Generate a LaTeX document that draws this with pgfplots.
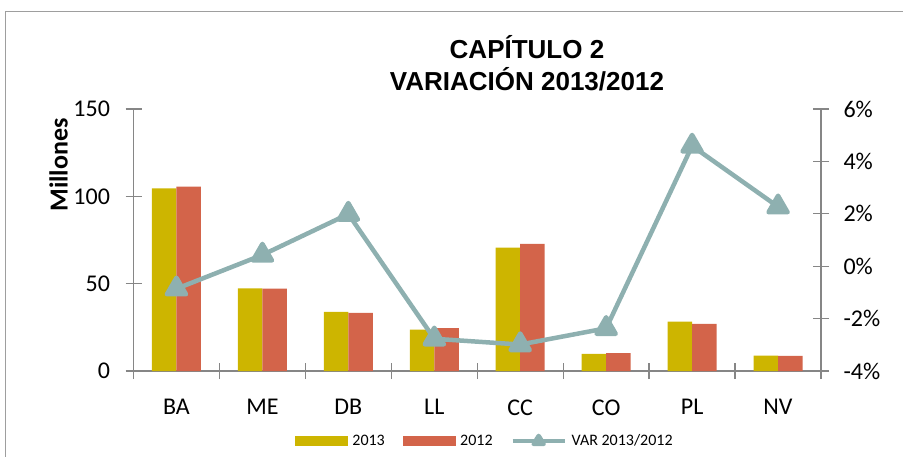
\documentclass[border=0pt]{standalone}
\usepackage{pgfplots}
\pgfplotsset{compat=1.18}
\usepackage{fontspec}
\setmainfont{Carlito}
\newfontfamily\titlefont{Liberation Sans}
\definecolor{cA}{HTML}{CDB500}
\definecolor{cB}{HTML}{D3644A}
\definecolor{cL}{HTML}{8EB0B0}
\definecolor{axgray}{HTML}{868686}
\begin{document}
\begin{tikzpicture}[x=1pt,y=1pt]
\useasboundingbox (0,0) rectangle (903,456);
\begin{scope}
\clip (0,0) rectangle (903,456);
\draw[axgray!80, line width=1pt] (5,-20) rectangle (1000,444);
\end{scope}
\node[font=\titlefont\bfseries\fontsize{26}{32}\selectfont, align=center] at (527,393) {CAPÍTULO 2\\VARIACIÓN 2013/2012};

\begin{axis}[at={(133.5pt,85pt)}, anchor=south west, scale only axis,
  width=687.5pt, height=262pt,
  xmin=-0.5, xmax=7.5, ymin=0, ymax=150,
  axis x line*=bottom, axis y line*=left,
  axis line style={-, axgray, line width=1.3pt},
  xtick={0,...,7}, xticklabels={BA,ME,DB,LL,CC,CO,PL,NV},
  minor xtick={-0.5,0.5,...,7.5},
  ytick={0,50,100,150},
  tick align=center,
  major tick length=16pt, minor tick length=16pt,
  x tick style={draw=none},
  minor x tick style={draw=axgray, line width=1.3pt},
  y tick style={axgray, line width=1.3pt},
  /pgf/number format/assume math mode=true,
  tick label style={font=\fontsize{24}{24}\selectfont},
  xticklabel style={yshift=-17pt},
  yticklabel style={xshift=-12pt},
  ylabel={Millones},
  ylabel style={font=\bfseries\fontsize{26}{26}\selectfont, at={(axis description cs:-0.109,0.786)}, anchor=center},
  clip=false,
]
\addplot[ybar, bar width=24.5pt, bar shift=-12.25pt, fill=cA, draw=none]
  coordinates {(0,104.6) (1,47.3) (2,33.9) (3,23.7) (4,70.7) (5,9.8) (6,28.3) (7,8.8)};
\addplot[ybar, bar width=24.5pt, bar shift=12.25pt, fill=cB, draw=none]
  coordinates {(0,105.6) (1,47.1) (2,33.3) (3,24.5) (4,72.8) (5,10.2) (6,27.0) (7,8.6)};
\end{axis}

\begin{axis}[at={(133.5pt,85pt)}, anchor=south west, scale only axis,
  width=687.5pt, height=262pt,
  xmin=-0.5, xmax=7.5, ymin=-4, ymax=6,
  axis x line=none, axis y line*=right,
  axis line style={-, axgray, line width=1.3pt},
  ytick={-4,-2,0,2,4,6},
  yticklabels={-4\%,-2\%,0\%,2\%,4\%,6\%},
  tick align=center, major tick length=16pt,
  y tick style={axgray, line width=1.3pt},
  tick label style={font=\fontsize{24}{24}\selectfont},
  yticklabel style={xshift=11pt},
  clip=false,
  legend columns=3,
  legend style={draw=none, fill=none, at={(axis description cs:0.511,-0.267)}, anchor=center,
    font=\fontsize{16}{16}\selectfont,
    /tikz/every odd column/.append style={column sep=3pt},
    /tikz/every even column/.append style={column sep=16pt}},
  legend cell align=left,
]
\addlegendimage{legend image code/.code={\fill[cA] (0pt,-4.5pt) rectangle (52pt,4.5pt);}}
\addlegendimage{legend image code/.code={\fill[cB] (0pt,-4.5pt) rectangle (52pt,4.5pt);}}
\addplot[cL, line width=4.5pt, line join=round, mark=triangle*, mark size=11pt,
  legend image code/.code={\draw[cL, line width=4pt] (0pt,0pt) -- (52pt,0pt);
    \fill[cL] (26pt,5pt) -- (21pt,-3pt) -- (31pt,-3pt) -- cycle;}]
  coordinates {(0,-0.86) (1,0.43) (2,1.99) (3,-2.77) (4,-2.99) (5,-2.37) (6,4.59) (7,2.27)};
\legend{2013,2012,VAR 2013/2012}
\end{axis}
\end{tikzpicture}
\end{document}
